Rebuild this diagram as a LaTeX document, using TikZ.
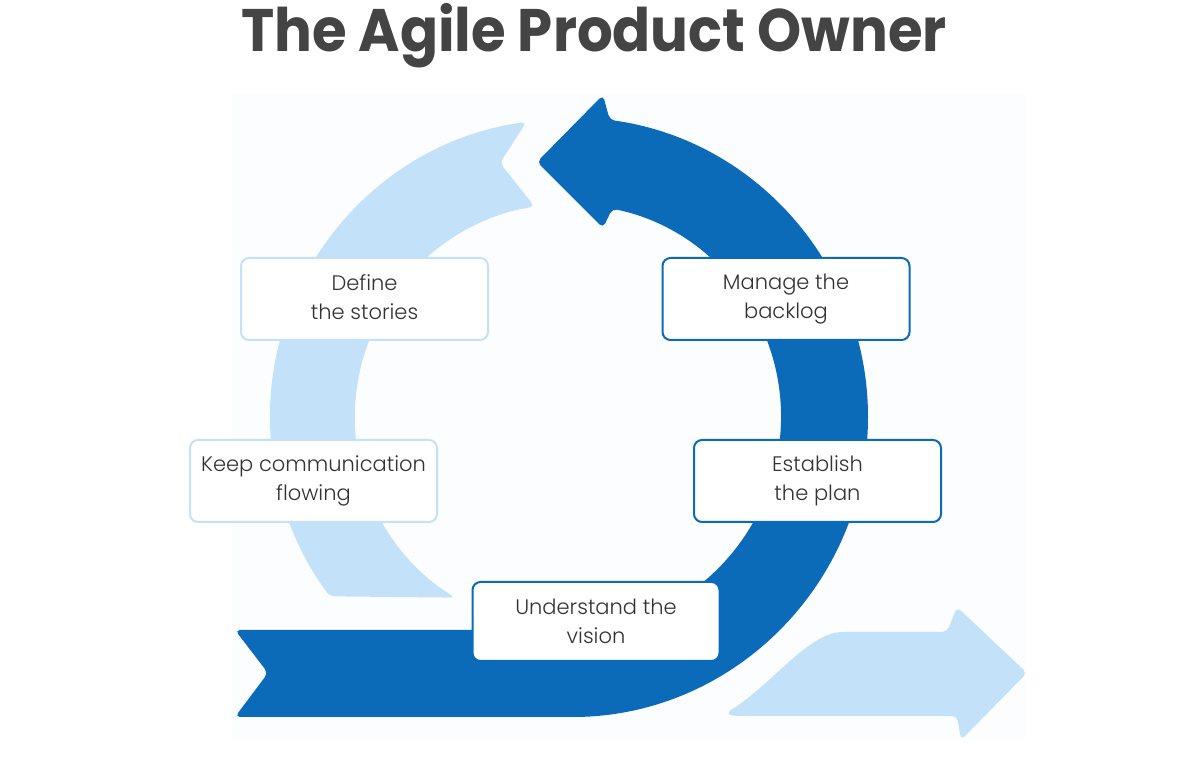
\documentclass[tikz,border=0pt]{standalone}
\usepackage{fontspec}
\setmainfont{Poppins}
\newfontfamily\lblfont{Poppins Light}
\usetikzlibrary{calc}
\definecolor{bgc}{RGB}{251,253,254}
\definecolor{darkc}{RGB}{12,107,184}
\definecolor{lightc}{RGB}{195,226,250}
\definecolor{titlec}{RGB}{68,68,68}
\definecolor{textc}{RGB}{51,51,51}
\tikzset{
  box/.style={rectangle, rounded corners=8pt, fill=white, line width=2pt,
    minimum width=247pt, minimum height=82pt, align=center, inner sep=0pt,
    text=textc, font=\lblfont\fontsize{21}{29}\selectfont},
  lightbox/.style={box, draw=lightc},
  darkbox/.style={box, draw=darkc},
  shapefill/.style={rounded corners=5pt}
}
\begin{document}
\begin{tikzpicture}[x=1pt,y=1pt]
\useasboundingbox (0,0) rectangle (1187,765);
\fill[bgc] (232,25) rectangle (1027,672);
\coordinate (C) at (568,348);
% light arc (left)
\fill[lightc, shapefill] ($(C)+(98:298)$) arc[start angle=98, end angle=217, radius=298]
  -- ($(C)+(238:213)$) arc[start angle=238, end angle=99, radius=213]
  -- (500,602) -- cycle;
% dark arrow
\fill[darkc, shapefill] (235,135) -- (268,92) -- (235,48) -- (568,48)
  arc[start angle=270, end angle=442, radius=300]
  -- (603,670) -- (537,603) -- (603,537)
  -- ($(C)+(78:213)$) arc[start angle=78, end angle=-90, radius=213] -- cycle;
% light arrow (bottom right)
\fill[lightc, shapefill] (733,49) -- (726,52) .. controls (772,80) and (808,133) .. (848,133)
  -- (947,133) -- (957,158) -- (1027,92) -- (961,25) -- (957,49) -- cycle;
% title
\node[font=\bfseries\fontsize{60}{72}\selectfont, text=titlec, anchor=base] (title) at (594,713) {\scalebox{0.936}[1]{The Agile Product Owner}};
% boxes
\node[lightbox] (define) at (364.5,466) {\raisebox{8pt}{\begin{tabular}{@{}c@{}}Define\\the stories\end{tabular}}};
\node[lightbox] (keep) at (313.5,284) {Keep communication\\flowing};
\node[darkbox] (manage) at (786,466) {Manage the\\backlog};
\node[darkbox] (establish) at (817.5,284) {Establish\\the plan};
\node[darkbox, minimum height=79pt] (vision) at (596,143.5) {Understand the\\vision};
\end{tikzpicture}
\end{document}
